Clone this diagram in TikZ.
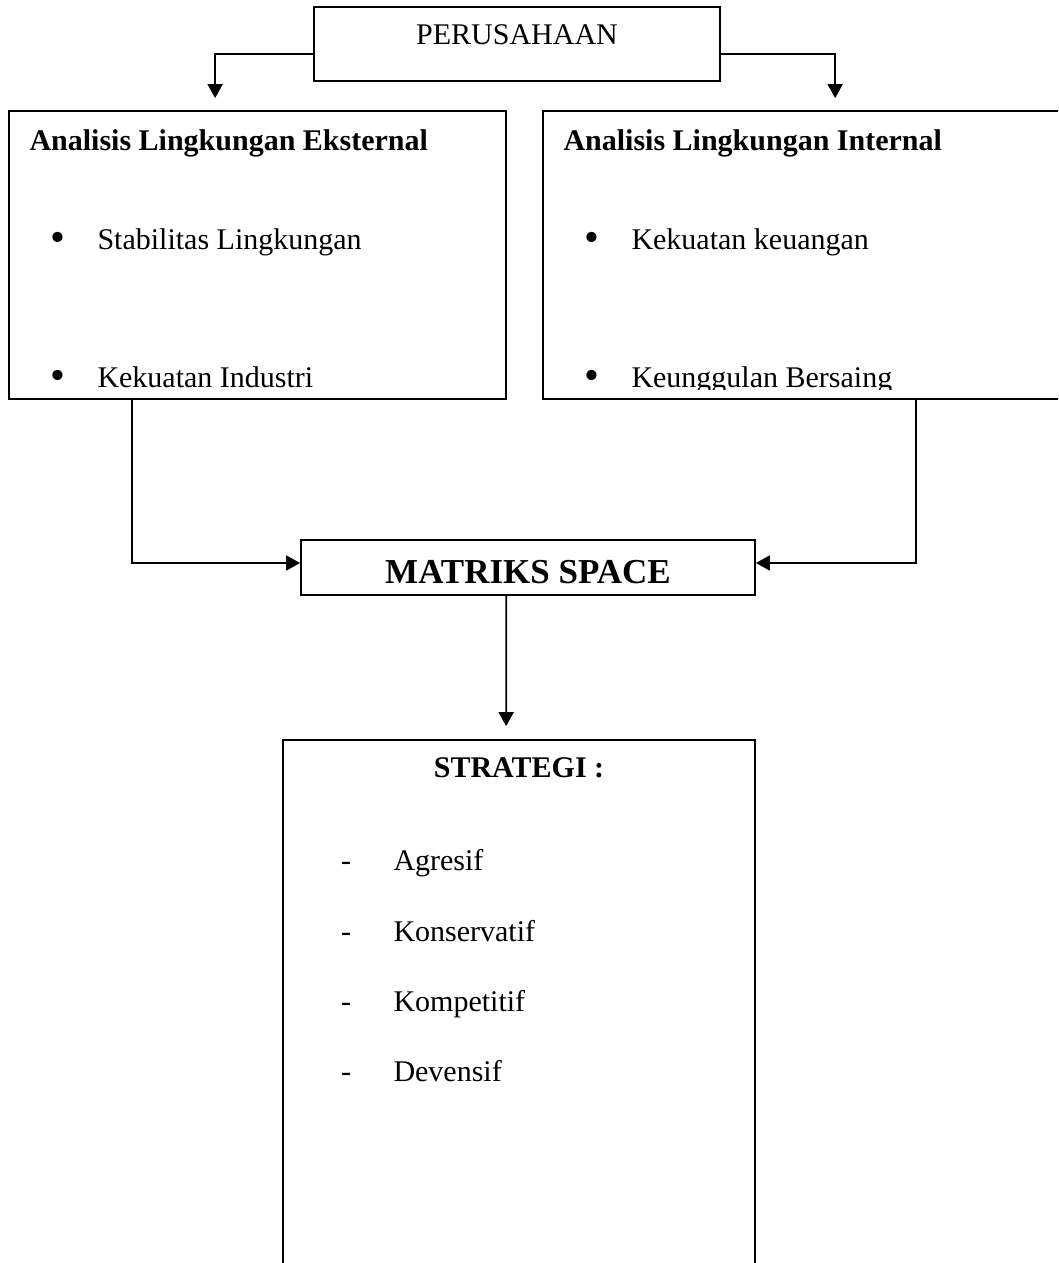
\documentclass[tikz,border=0pt]{standalone}
\usepackage{fontspec}
\setmainfont{Liberation Serif}
\usetikzlibrary{arrows.meta}
\begin{document}
\begin{tikzpicture}[x=0.4pt,y=-0.4pt,
  box/.style={draw, line width=0.7pt, rectangle, inner sep=0pt},
  arr/.style={draw, line width=0.7pt, -{Triangle[width=6pt,length=5.6pt]}},
  txt/.style={inner sep=0pt, font=\fontsize{12}{14}\selectfont},
  bul/.style={inner sep=0pt, font=\fontsize{17}{18}\selectfont},
  head/.style={inner sep=0pt, font=\fontsize{12}{14}\selectfont\bfseries},
  big/.style={inner sep=0pt, font=\fontsize{14}{16}\selectfont\bfseries},
  ]
\clip (0,0) rectangle (1058,1263);

% boxes
\node[box, minimum width=162.4pt, minimum height=29.6pt] (per) at (517,44) {};
\node[box, minimum width=198.8pt, minimum height=115.2pt] (ext) at (257.5,255) {};
\node[box, minimum width=222.8pt, minimum height=115.2pt] (int) at (821.5,255) {};
\node[box, minimum width=181.6pt, minimum height=22pt] (mat) at (528,567.5) {};
\node[box, minimum width=188.8pt, minimum height=220pt] (str) at (519,1015) {};

% top box label
\node[txt, anchor=base] (perT) at (517,45) {PERUSAHAAN};

% external analysis
\begin{scope}
  \clip (9,111) rectangle (506,390);
  \node[head, anchor=base west] (extH) at (29,151) {Analisis Lingkungan Eksternal};
  \node[bul, anchor=base] (extB1) at (58,252) {\textbullet};
  \node[txt, anchor=base west] (extT1) at (97,250) {Stabilitas Lingkungan};
  \node[bul, anchor=base] (extB2) at (58,390) {\textbullet};
  \node[txt, anchor=base west] (extT2) at (97,388) {Kekuatan Industri};
\end{scope}

% internal analysis
\begin{scope}
  \clip (543,111) rectangle (1100,390);
  \node[head, anchor=base west] (intH) at (563,151) {Analisis Lingkungan Internal};
  \node[bul, anchor=base] (intB1) at (592,252) {\textbullet};
  \node[txt, anchor=base west] (intT1) at (631,250) {Kekuatan keuangan};
  \node[bul, anchor=base] (intB2) at (592,390) {\textbullet};
  \node[txt, anchor=base west] (intT2) at (631,388) {Keunggulan Bersaing};
\end{scope}

% matrix
\node[big, anchor=base] (matT) at (528,583) {MATRIKS SPACE};

% strategies
\node[head, anchor=base] (strH) at (519,777) {STRATEGI :};
\node[txt, anchor=base] (d1) at (346,870) {-};
\node[txt, anchor=base west] (s1) at (393,870) {Agresif};
\node[txt, anchor=base] (d2) at (346,941) {-};
\node[txt, anchor=base west] (s2) at (393,941) {Konservatif};
\node[txt, anchor=base] (d3) at (346,1011) {-};
\node[txt, anchor=base west] (s3) at (393,1011) {Kompetitif};
\node[txt, anchor=base] (d4) at (346,1081) {-};
\node[txt, anchor=base west] (s4) at (393,1081) {Devensif};

% connectors
\draw[arr] ([yshift=11.2pt]per.south west) -| ([xshift=82.8pt,yshift=4.8pt]ext.north west);
\draw[arr] ([yshift=11.2pt]per.south east) -| ([xshift=117.2pt,yshift=4.8pt]int.north west);
\draw[arr] ([xshift=49.6pt]ext.south west) |- ([yshift=1.8pt]mat.west);
\draw[arr] ([xshift=149.6pt]int.south west) |- ([yshift=1.8pt]mat.east);
\draw[arr] ([xshift=82.4pt]mat.south west) -- ([xshift=89.6pt,yshift=5.2pt]str.north west);
\end{tikzpicture}
\end{document}
